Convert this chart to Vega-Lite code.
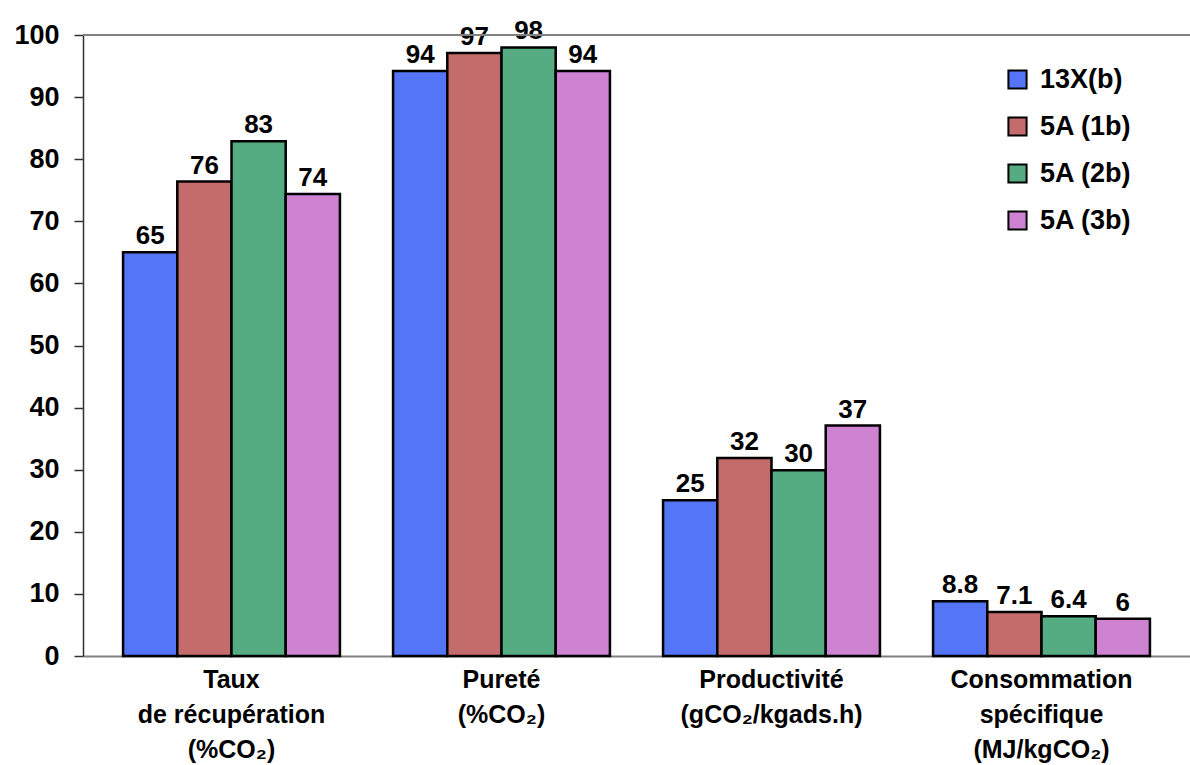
{
  "$schema": "https://vega.github.io/schema/vega-lite/v6.json",
  "width": 1107,
  "height": 621,
  "autosize": {"type": "none"},
  "padding": {"left": 83, "top": 35, "right": 0, "bottom": 109},
  "background": "white",
  "config": {
    "view": {"stroke": null},
    "font": "Liberation Sans",
    "axis": {"labelFont": "Liberation Sans", "labelFontWeight": "bold", "labelColor": "black"}
  },
  "data": {
    "values": [
      {"categorie": "Taux|de récupération|(%CO₂)", "serie": "13X(b)", "valeur": 65, "label": "65"},
      {"categorie": "Taux|de récupération|(%CO₂)", "serie": "5A (1b)", "valeur": 76.4, "label": "76"},
      {"categorie": "Taux|de récupération|(%CO₂)", "serie": "5A (2b)", "valeur": 82.9, "label": "83"},
      {"categorie": "Taux|de récupération|(%CO₂)", "serie": "5A (3b)", "valeur": 74.4, "label": "74"},
      {"categorie": "Pureté|(%CO₂)", "serie": "13X(b)", "valeur": 94.2, "label": "94"},
      {"categorie": "Pureté|(%CO₂)", "serie": "5A (1b)", "valeur": 97.1, "label": "97"},
      {"categorie": "Pureté|(%CO₂)", "serie": "5A (2b)", "valeur": 98.0, "label": "98"},
      {"categorie": "Pureté|(%CO₂)", "serie": "5A (3b)", "valeur": 94.2, "label": "94"},
      {"categorie": "Productivité|(gCO₂/kgads.h)", "serie": "13X(b)", "valeur": 25.1, "label": "25"},
      {"categorie": "Productivité|(gCO₂/kgads.h)", "serie": "5A (1b)", "valeur": 31.9, "label": "32"},
      {"categorie": "Productivité|(gCO₂/kgads.h)", "serie": "5A (2b)", "valeur": 29.9, "label": "30"},
      {"categorie": "Productivité|(gCO₂/kgads.h)", "serie": "5A (3b)", "valeur": 37.1, "label": "37"},
      {"categorie": "Consommation|spécifique|(MJ/kgCO₂)", "serie": "13X(b)", "valeur": 8.8, "label": "8.8"},
      {"categorie": "Consommation|spécifique|(MJ/kgCO₂)", "serie": "5A (1b)", "valeur": 7.1, "label": "7.1"},
      {"categorie": "Consommation|spécifique|(MJ/kgCO₂)", "serie": "5A (2b)", "valeur": 6.4, "label": "6.4"},
      {"categorie": "Consommation|spécifique|(MJ/kgCO₂)", "serie": "5A (3b)", "valeur": 6.0, "label": "6"}
    ]
  },
  "encoding": {
    "x": {
      "field": "categorie",
      "type": "nominal",
      "sort": null,
      "title": null,
      "scale": {"paddingInner": 0, "paddingOuter": 0.05},
      "axis": {
        "labelAngle": 0,
        "labelFontSize": 25,
        "labelLineHeight": 35,
        "labelPadding": 11,
        "labelLimit": 0,
        "labelExpr": "split(datum.label, '|')",
        "ticks": false,
        "domainColor": "#808080",
        "domainWidth": 2,
        "labelBaseline": "top"
      }
    },
    "xOffset": {"field": "serie", "type": "nominal", "sort": null, "scale": {"paddingInner": 0, "paddingOuter": 0.49}},
    "y": {
      "field": "valeur",
      "type": "quantitative",
      "title": null,
      "scale": {"domain": [0, 100], "nice": false},
      "axis": {
        "values": [0, 10, 20, 30, 40, 50, 60, 70, 80, 90, 100],
        "grid": false,
        "labelFontSize": 27,
        "labelPadding": 15,
        "tickSize": 9,
        "tickColor": "#333333",
        "tickWidth": 1.5,
        "domainColor": "#333333",
        "domainWidth": 1.5
      }
    }
  },
  "layer": [
    {
      "mark": {"type": "bar", "stroke": "black", "strokeWidth": 2.5},
      "encoding": {
        "fill": {
          "field": "serie",
          "type": "nominal",
          "sort": null,
          "scale": {
            "domain": ["13X(b)", "5A (1b)", "5A (2b)", "5A (3b)"],
            "range": ["#5475f5", "#c46c6c", "#55ab82", "#cd82d2"]
          },
          "legend": {
            "orient": "none",
            "legendX": 921,
            "legendY": 31,
            "title": null,
            "symbolType": "square",
            "symbolSize": 330,
            "symbolStrokeColor": "black",
            "symbolStrokeWidth": 2,
            "labelFont": "Liberation Sans",
            "labelFontWeight": "bold",
            "labelFontSize": 27,
            "labelColor": "black",
            "labelOffset": 9,
            "rowPadding": 19
          }
        }
      }
    },
    {
      "mark": {"type": "text", "baseline": "bottom", "dy": -3, "fontSize": 26, "fontWeight": "bold", "font": "Liberation Sans", "color": "black"},
      "encoding": {"text": {"field": "label"}}
    },
    {
      "mark": {"type": "rule", "color": "#808080", "strokeWidth": 2},
      "encoding": {"y": {"datum": 100}, "x": null, "xOffset": null}
    }
  ]
}
